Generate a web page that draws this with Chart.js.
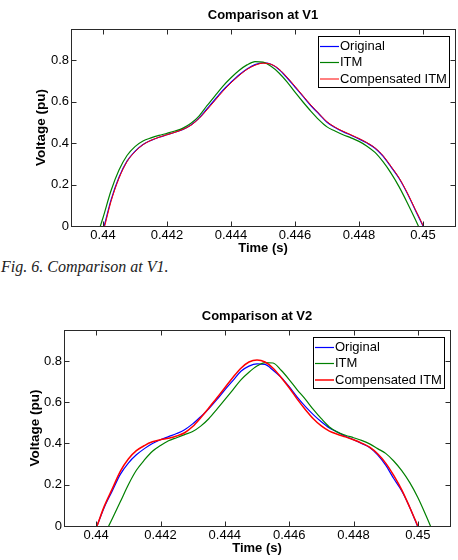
<!DOCTYPE html>
<html><head><meta charset="utf-8">
<script src="https://cdn.jsdelivr.net/npm/chart.js@4"></script>
<style>
html,body{margin:0;padding:0;background:#fff;width:458px;height:560px;overflow:hidden;position:relative}
#c1{position:absolute;left:0;top:0}
#c2{position:absolute;left:0;top:301px}
#cap{position:absolute;left:1px;top:258px;font:italic 16px/18px "Liberation Serif","Times New Roman",serif;color:#222;white-space:nowrap}
</style></head><body>
<canvas id="c1" width="458" height="258"></canvas>
<div id="cap">Fig. 6. Comparison at V1.</div>
<canvas id="c2" width="458" height="259"></canvas>
<script>
// Time samples (s)
const timeS = [0.43975, 0.44, 0.44025, 0.4405, 0.44075, 0.441, 0.44125, 0.4415, 0.44175, 0.442, 0.44225, 0.4425, 0.44275, 0.443, 0.44325, 0.4435, 0.44375, 0.444, 0.44425, 0.4445, 0.44475, 0.445, 0.44525, 0.4455, 0.44575, 0.446, 0.44625, 0.4465, 0.44675, 0.447, 0.44725, 0.4475, 0.44775, 0.448, 0.44825, 0.4485, 0.44875, 0.449, 0.44925, 0.4495, 0.44975, 0.45, 0.45025, 0.4505];

// Comparison at V1 (pu)
const v1Original = [-0.13, -0.02, 0.125, 0.235, 0.313, 0.36, 0.393, 0.413, 0.428, 0.44, 0.452, 0.466, 0.487, 0.52, 0.565, 0.61, 0.655, 0.693, 0.728, 0.757, 0.778, 0.787, 0.78, 0.755, 0.715, 0.67, 0.625, 0.58, 0.54, 0.5, 0.475, 0.455, 0.438, 0.42, 0.4, 0.375, 0.337, 0.285, 0.23, 0.16, 0.08, 0.0, -0.09, -0.18];
const v1ITM = [-0.08, 0.04, 0.17, 0.27, 0.34, 0.383, 0.41, 0.425, 0.437, 0.447, 0.458, 0.472, 0.495, 0.53, 0.58, 0.628, 0.675, 0.715, 0.75, 0.777, 0.793, 0.79, 0.77, 0.738, 0.695, 0.645, 0.598, 0.553, 0.512, 0.478, 0.458, 0.44, 0.425, 0.408, 0.385, 0.355, 0.31, 0.255, 0.19, 0.115, 0.035, -0.05, -0.14, -0.23];
const v1Comp = [-0.14, -0.03, 0.118, 0.23, 0.31, 0.358, 0.392, 0.413, 0.428, 0.44, 0.452, 0.466, 0.486, 0.518, 0.56, 0.605, 0.65, 0.69, 0.725, 0.755, 0.775, 0.785, 0.78, 0.757, 0.718, 0.674, 0.628, 0.583, 0.542, 0.503, 0.477, 0.457, 0.44, 0.422, 0.402, 0.377, 0.34, 0.288, 0.233, 0.163, 0.083, 0.003, -0.087, -0.177];

// Comparison at V2 (pu)
const v2Original = [-0.1, -0.01, 0.09, 0.17, 0.25, 0.305, 0.345, 0.375, 0.4, 0.418, 0.433, 0.448, 0.467, 0.495, 0.53, 0.568, 0.612, 0.66, 0.705, 0.75, 0.775, 0.786, 0.783, 0.755, 0.72, 0.675, 0.625, 0.58, 0.54, 0.505, 0.475, 0.455, 0.435, 0.418, 0.4, 0.38, 0.345, 0.295, 0.23, 0.17, 0.09, -0.005, -0.1, -0.19];
const v2ITM = [-0.22, -0.13, -0.045, 0.035, 0.117, 0.2, 0.27, 0.32, 0.362, 0.39, 0.413, 0.428, 0.443, 0.458, 0.484, 0.52, 0.565, 0.612, 0.66, 0.708, 0.745, 0.775, 0.792, 0.79, 0.755, 0.71, 0.66, 0.615, 0.565, 0.52, 0.48, 0.455, 0.44, 0.428, 0.415, 0.398, 0.375, 0.352, 0.315, 0.268, 0.21, 0.138, 0.052, -0.04];
const v2Comp = [-0.1, -0.01, 0.095, 0.18, 0.265, 0.325, 0.365, 0.39, 0.408, 0.418, 0.425, 0.436, 0.452, 0.482, 0.525, 0.572, 0.62, 0.67, 0.72, 0.765, 0.795, 0.805, 0.795, 0.765, 0.72, 0.67, 0.615, 0.565, 0.52, 0.485, 0.46, 0.445, 0.432, 0.418, 0.402, 0.382, 0.35, 0.305, 0.245, 0.175, 0.09, 0.0, -0.09, -0.18];

const seriesNames = ['Original', 'ITM', 'Compensated ITM'];
const xTickValues = [0.44, 0.442, 0.444, 0.446, 0.448, 0.45];
const xTickLabels = ['0.44', '0.442', '0.444', '0.446', '0.448', '0.45'];
const yTickValues = [0, 0.2, 0.4, 0.6, 0.8];
const yTickLabels = ['0', '0.2', '0.4', '0.6', '0.8'];

Chart.defaults.font.family = '"Liberation Sans", Arial, sans-serif';
Chart.defaults.color = '#000';

const frameTicks = {
  id: 'frameTicks',
  afterDatasetsDraw(chart) {
    const {ctx, chartArea: a, scales: {x, y}} = chart;
    const l = Math.round(a.left) + 0.5, r = Math.round(a.right) + 0.5;
    const t = Math.round(a.top) + 0.5, b = Math.round(a.bottom) + 0.5;
    ctx.save();
    ctx.strokeStyle = '#2a2a2a';
    ctx.lineWidth = 1;
    ctx.strokeRect(l, t, r - l, b - t);
    ctx.beginPath();
    const L = 5;
    x.ticks.forEach(tk => {
      const px = Math.round(x.getPixelForValue(tk.value)) + 0.5;
      ctx.moveTo(px, b); ctx.lineTo(px, b - L);
      ctx.moveTo(px, t); ctx.lineTo(px, t + L);
    });
    y.ticks.forEach(tk => {
      const py = Math.round(y.getPixelForValue(tk.value)) + 0.5;
      ctx.moveTo(l, py); ctx.lineTo(l + L, py);
      ctx.moveTo(r, py); ctx.lineTo(r - L, py);
    });
    ctx.stroke();
    ctx.restore();
  }
};

const boxLegend = {
  id: 'boxLegend',
  afterDraw(chart) {
    const {ctx, chartArea: a} = chart;
    const ds = chart.data.datasets;
    ctx.save();
    ctx.font = '13px "Liberation Sans", Arial, sans-serif';
    const tw = Math.max(...ds.map(d => ctx.measureText(d.label).width));
    const w = Math.round(22 + tw + 2.5), h = 51;
    const left = Math.round(a.right - 6.5 - w), top = Math.round(a.top + 7);
    ctx.fillStyle = '#fff';
    ctx.fillRect(left, top, w, h);
    ctx.strokeStyle = '#000';
    ctx.lineWidth = 1;
    ctx.strokeRect(left + 0.5, top + 0.5, w, h);
    const rows = [10.5, 26.5, 43];
    ds.forEach((d, i) => {
      const yy = top + rows[i];
      ctx.strokeStyle = d.borderColor;
      ctx.lineWidth = d.borderWidth;
      ctx.beginPath(); ctx.moveTo(left + 2, yy); ctx.lineTo(left + 21, yy); ctx.stroke();
      ctx.fillStyle = '#000';
      ctx.textBaseline = 'middle';
      ctx.textAlign = 'left';
      ctx.fillText(d.label, left + 22, yy);
    });
    ctx.restore();
  }
};

function pts(vals) { return timeS.map((t, i) => ({x: t, y: vals[i]})); }

function makeChart(id, title, orig, itm, comp, g) {
  const mk = (label, vals, color, width, order) => ({
    label, data: pts(vals), borderColor: color, borderWidth: width,
    pointRadius: 0, cubicInterpolationMode: 'monotone', fill: false, order, clip: 0
  });
  return new Chart(document.getElementById(id), {
    type: 'line',
    data: {datasets: [
      mk(seriesNames[0], orig, '#0000ff', 1.2, 2),
      mk(seriesNames[1], itm, '#008000', 1.2, 1),
      mk(seriesNames[2], comp, '#ff0000', g.redW, 0)
    ]},
    options: {
      responsive: false, animation: false, devicePixelRatio: 1,
      layout: {padding: {left: 0, right: g.padRight, top: 0, bottom: 0}},
      plugins: {
        legend: {display: false}, tooltip: {enabled: false},
        title: {display: true, text: title, fullSize: false, color: '#000',
          font: {size: 13, weight: 'bold'}, padding: {top: 7.2, bottom: 6.2}}
      },
      scales: {
        x: {
          type: 'linear', min: 0.439, max: 0.451,
          afterBuildTicks: s => { s.ticks = xTickValues.map(v => ({value: v})); },
          afterFit: s => { s.height = g.xH; },
          grid: {display: false, drawTicks: false}, border: {display: false},
          ticks: {callback: (v, i) => xTickLabels[i], font: {size: 13}, color: '#000',
            padding: 2, autoSkip: false, maxRotation: 0},
          title: {display: true, text: 'Time (s)', color: '#000',
            font: {size: 13, weight: 'bold'}, padding: {top: 0, bottom: g.xTitlePad}}
        },
        y: {
          type: 'linear', min: 0, max: 0.95,
          afterBuildTicks: s => { s.ticks = yTickValues.map(v => ({value: v})); },
          afterFit: s => { s.width = g.yW; },
          grid: {display: false, drawTicks: false}, border: {display: false},
          ticks: {callback: (v, i) => yTickLabels[i], font: {size: 13}, color: '#000', padding: 2},
          title: {display: true, text: 'Voltage (pu)', color: '#000',
            font: {size: 13.5, weight: 'bold'}, padding: {top: g.yTitlePad, bottom: 0}}
        }
      }
    },
    plugins: [frameTicks, boxLegend]
  });
}

makeChart('c1', 'Comparison at V1', v1Original, v1ITM, v1Comp,
  {yW: 71, padRight: 3, xH: 32, xTitlePad: 2.2, yTitlePad: 32.9, redW: 1});
makeChart('c2', 'Comparison at V2', v2Original, v2ITM, v2Comp,
  {yW: 64, padRight: 8, xH: 34, xTitlePad: 3.7, yTitlePad: 26.9, redW: 1.5});
</script>
</body></html>
